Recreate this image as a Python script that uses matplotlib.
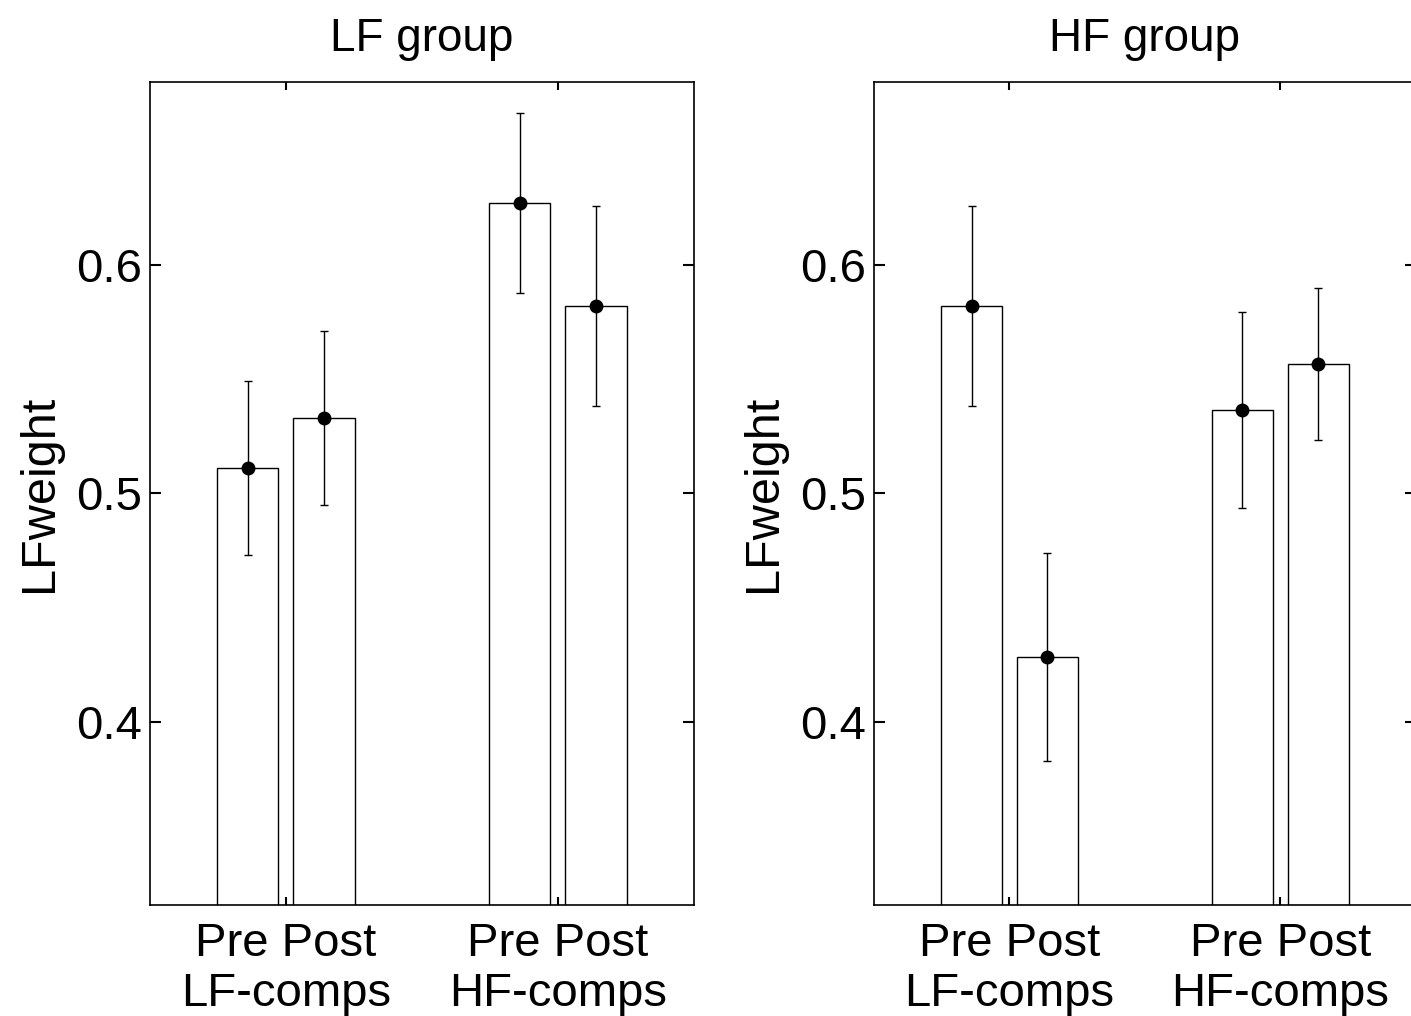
import numpy as np
import matplotlib.pyplot as plt

plt.rcParams['font.family'] = ['Liberation Sans', 'DejaVu Sans']

# groups and conditions
groups = ['LF-comps', 'HF-comps']
conds = ['Pre', 'Post']
panel_titles = ['LF group', 'HF group']

# mean LF weight, order: [Pre, Post] per comp group
lf_group_mean = [[0.511, 0.533], [0.627, 0.582]]
lf_group_err = [[0.038, 0.038], [0.0395, 0.0437]]
hf_group_mean = [[0.582, 0.4285], [0.5364, 0.5566]]
hf_group_err = [[0.0437, 0.0456], [0.0428, 0.0331]]

means = [lf_group_mean, hf_group_mean]
errs = [lf_group_err, hf_group_err]

fig = plt.figure(figsize=(14.11, 10.16), dpi=100)
positions = [[0.1063, 0.1093, 0.3855, 0.810],
             [0.6194, 0.1093, 0.3840, 0.810]]

x = np.arange(1, len(groups) + 1)
offs = [-0.14, 0.14]
w = 0.225

for k in range(2):
    ax = fig.add_axes(positions[k])
    m = np.array(means[k])
    e = np.array(errs[k])
    for j in range(2):
        xs = x + offs[j]
        ax.bar(xs, m[:, j], width=w, bottom=0, color='white',
               edgecolor='black', linewidth=1.0, zorder=1)
        ax.errorbar(xs, m[:, j], yerr=e[:, j], fmt='o', color='black',
                    markersize=9, elinewidth=1.0, capsize=3, capthick=1.0,
                    zorder=3)
    ax.set_xlim(0.5, 2.5)
    ax.set_ylim(0.32, 0.68)
    ax.set_yticks([0.4, 0.5, 0.6])
    ax.set_yticklabels(['0.4', '0.5', '0.6'])
    ax.set_xticks(x)
    ax.set_xticklabels([' '.join(conds) + '\n' + g for g in groups],
                       linespacing=1.2)
    ax.tick_params(axis='y', direction='in', length=8, width=1.5,
                   right=True, labelsize=34, pad=6)
    ax.tick_params(axis='x', direction='in', length=6, width=1.5,
                   top=True, labelsize=34, pad=12)
    for s in ax.spines.values():
        s.set_linewidth(1.2)
    ax.set_ylabel('LFweight', fontsize=35, labelpad=10)
    ax.set_title(panel_titles[k], fontsize=33, pad=22)

fig.savefig('out.png', dpi=100)
